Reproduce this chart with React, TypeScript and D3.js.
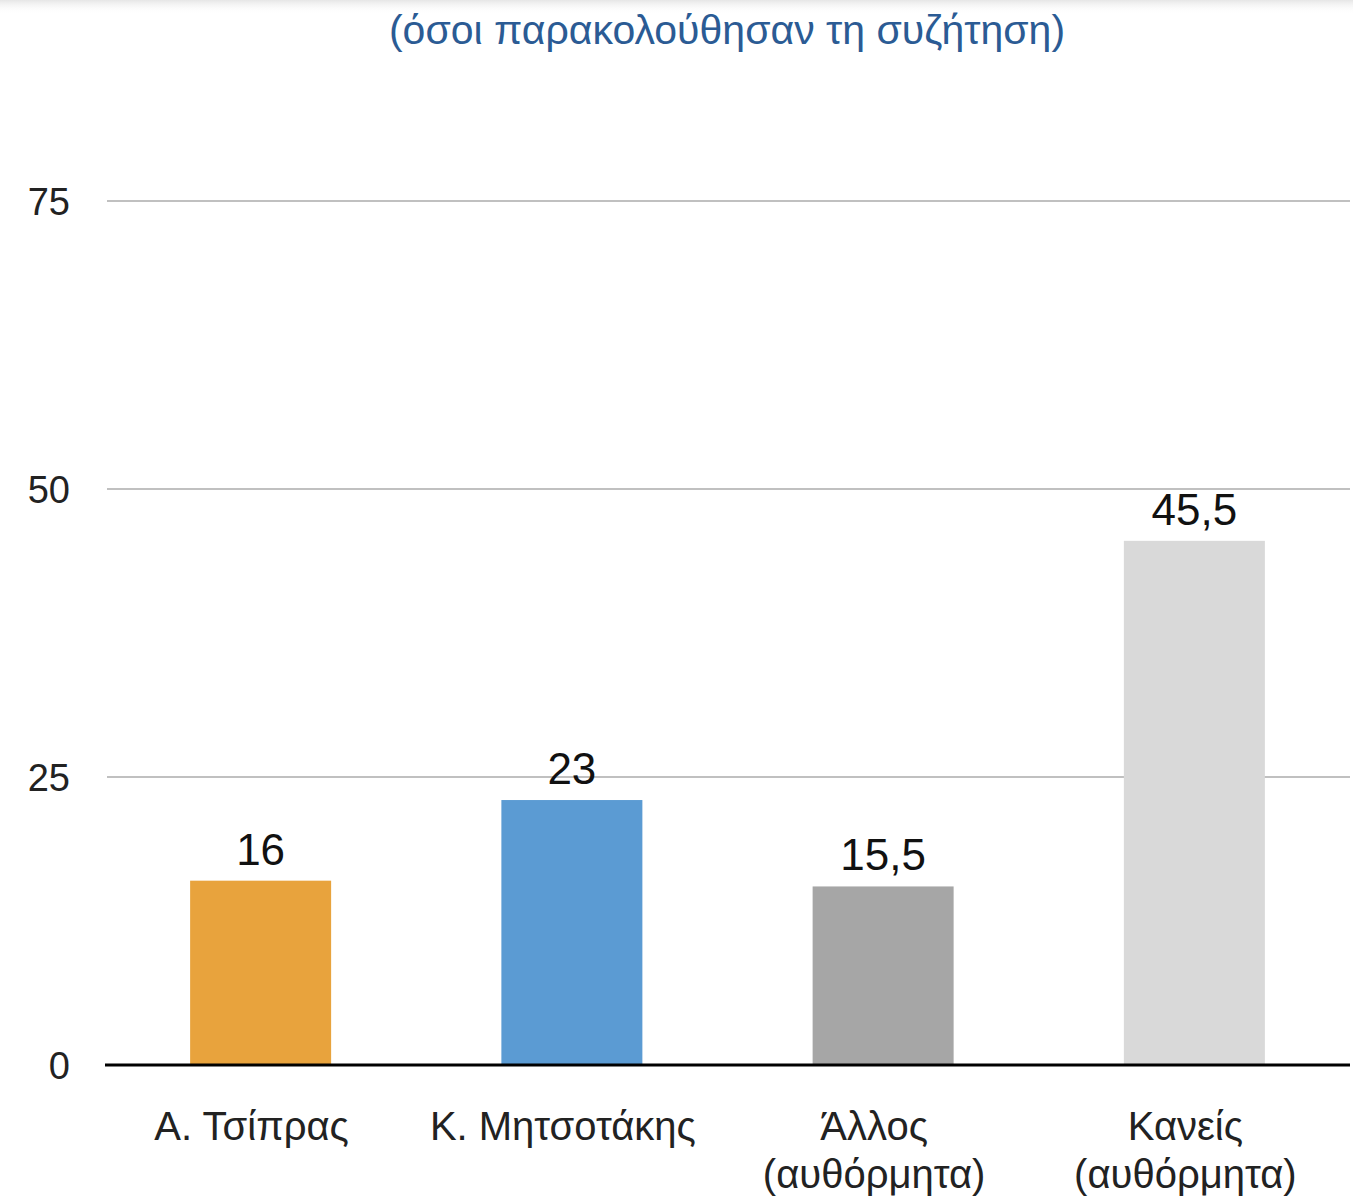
import React from "react";
import * as d3 from "d3";

const categories = [["Α. Τσίπρας"], ["Κ. Μητσοτάκης"], ["Άλλος", "(αυθόρμητα)"], ["Κανείς", "(αυθόρμητα)"]];
const values = [16, 23, 15.5, 45.5];
const valueLabels = ["16", "23", "15,5", "45,5"];
const colors = ["#e8a33d", "#5b9bd3", "#a6a6a6", "#d9d9d9"];
const yTicks = [0, 25, 50, 75];
const title = "(όσοι παρακολούθησαν τη συζήτηση)";

const W = 1353;
const H = 1199;
const font = "'Liberation Sans', Arial, Helvetica, sans-serif";

export default function App() {
  const x = d3
    .scaleBand<number>()
    .domain(d3.range(values.length))
    .range([105, 1350])
    .paddingInner(0.547)
    .paddingOuter(0.2735);
  const y = d3.scaleLinear().domain([0, 75]).range([1065, 201]);

  return (
    <svg
      width={W}
      height={H}
      style={{ position: "absolute", left: 0, top: 0, background: "#fff" }}
      fontFamily={font}
    >
      <defs>
        <linearGradient id="topShade" x1="0" y1="0" x2="0" y2="1">
          <stop offset="0" stopColor="#e6e6e6" />
          <stop offset="1" stopColor="#ffffff" stopOpacity="0" />
        </linearGradient>
      </defs>
      <rect x={0} y={0} width={W} height={14} fill="url(#topShade)" />
      <text x={727} y={44} textAnchor="middle" fontSize={41} fill="#2b5b94">
        {title}
      </text>
      {yTicks.map((t) => (
        <g key={t}>
          {t !== 0 && (
            <line x1={107} x2={1350} y1={y(t)} y2={y(t)} stroke="#c0c0c0" strokeWidth={2} />
          )}
          <text x={70} y={y(t)} dy="0.36em" textAnchor="end" fontSize={38} fill="#222">
            {t}
          </text>
        </g>
      ))}
      {values.map((v, i) => (
        <g key={i}>
          <rect
            x={x(i)}
            y={y(v)}
            width={x.bandwidth()}
            height={y(0) - y(v)}
            fill={colors[i]}
          />
          <text
            x={(x(i) as number) + x.bandwidth() / 2}
            y={y(v) - 16}
            textAnchor="middle"
            fontSize={44}
            fill="#111"
          >
            {valueLabels[i]}
          </text>
          {categories[i].map((line, j) => (
            <text
              key={j}
              x={(x(i) as number) + x.bandwidth() / 2 - 9}
              y={1140 + j * 48}
              textAnchor="middle"
              fontSize={40}
              fill="#222"
            >
              {line}
            </text>
          ))}
        </g>
      ))}
      <line x1={105} x2={1350} y1={y(0)} y2={y(0)} stroke="#000" strokeWidth={3} />
    </svg>
  );
}
